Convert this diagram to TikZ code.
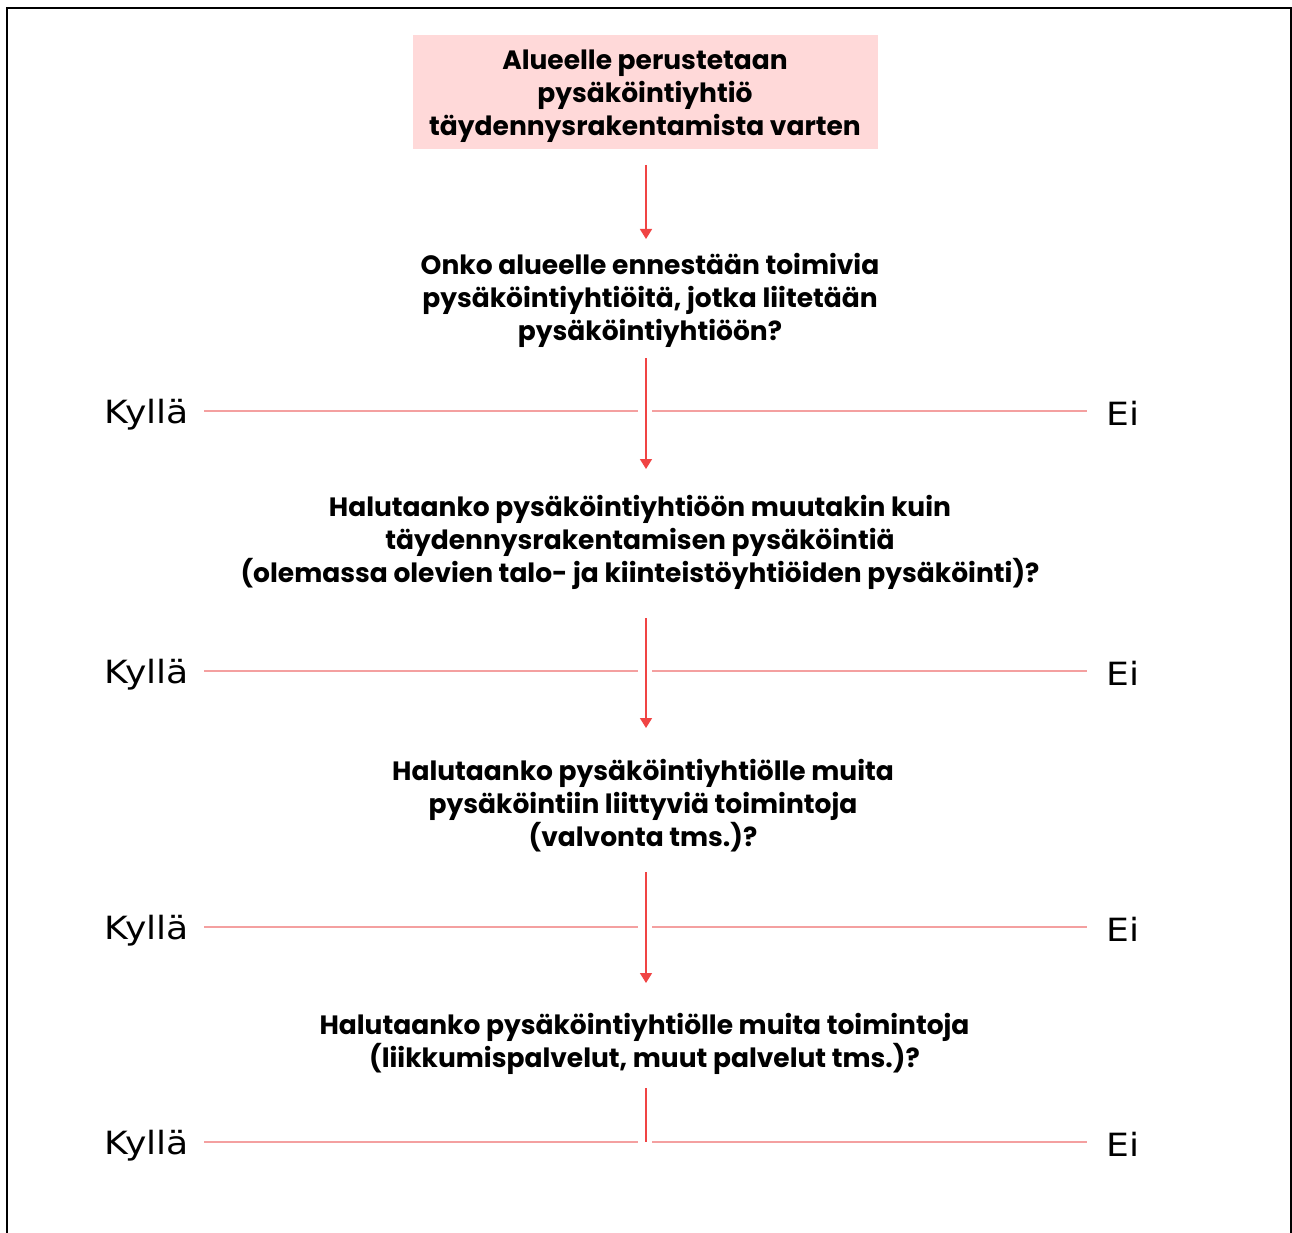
\documentclass[tikz,border=0pt]{standalone}
\usepackage{fontspec}
\usetikzlibrary{arrows.meta}
\newfontfamily\qfont{Poppins}
\newfontfamily\afont{DejaVu Sans}[FakeStretch=1.13]
\definecolor{boxpink}{RGB}{255,217,217}
\definecolor{arrred}{RGB}{240,68,68}
\definecolor{linepink}{RGB}{244,160,160}
\tikzset{
  qtext/.style={font=\qfont\bfseries\fontsize{26.5}{33}\selectfont, align=center, inner sep=0pt, text=black},
  ans/.style={font=\afont\fontsize{32}{38}\selectfont, inner sep=0pt, text=black},
  flow/.style={draw=arrred, line width=1.5pt, -{Triangle[width=12pt,length=10pt]}},
  stem/.style={draw=arrred, line width=1.5pt},
  branch/.style={draw=linepink, line width=1.5pt},
}
\begin{document}
\begin{tikzpicture}[x=1pt,y=-1pt]
\useasboundingbox (0,0) rectangle (1292,1233);
\fill[white] (0,0) rectangle (1292,1233);
\draw[black, line width=2.2pt] (7,1240) -- (7,8) -- (1291,8) -- (1291,1240);

\node[fill=boxpink, minimum width=465pt, minimum height=114pt, inner sep=0pt] (start) at (645.5,92) {};
\node[qtext] (starttext) at (645,96) {Alueelle perustetaan\\pysäköintiyhtiö\\täydennysrakentamista varten};

\node[qtext] (q1) at (650,300) {Onko alueelle ennestään toimivia\\pysäköintiyhtiöitä, jotka liitetään\\pysäköintiyhtiöön?};
\node[qtext] (q2) at (640,542) {Halutaanko pysäköintiyhtiöön muutakin kuin\\täydennysrakentamisen pysäköintiä\\(olemassa olevien talo- ja kiinteistöyhtiöiden pysäköinti)?};
\node[qtext] (q3) at (643,806) {Halutaanko pysäköintiyhtiölle muita\\pysäköintiin liittyviä toimintoja\\(valvonta tms.)?};
\node[qtext] (q4) at (644.5,1044) {Halutaanko pysäköintiyhtiölle muita toimintoja\\(liikkumispalvelut, muut palvelut tms.)?};

% arrow coordinates
\coordinate (a1s) at (646,165); \coordinate (a1e) at (646,239);
\coordinate (a2s) at (646,358); \coordinate (a2e) at (646,469);
\coordinate (a3s) at (646,618); \coordinate (a3e) at (646,728);
\coordinate (a4s) at (646,872); \coordinate (a4e) at (646,983);
\coordinate (a5s) at (646,1088); \coordinate (a5e) at (646,1142);

\draw[flow] (a1s) -- (a1e);
\draw[flow] (a2s) -- (a2e);
\draw[flow] (a3s) -- (a3e);
\draw[flow] (a4s) -- (a4e);
\draw[stem] (a5s) -- (a5e);

\foreach \i/\yy/\yb/\ye in {1/411/423/425, 2/671/683/685, 3/927/939/941, 4/1142/1154/1156}{
  \node[ans, anchor=base east] (yes\i) at (189,\yb) {Kyllä};
  \node[ans, anchor=base west] (no\i) at (1106,\ye) {Ei};
  \coordinate (ly\i) at (204,\yy); \coordinate (lm\i) at (638,\yy);
  \coordinate (rm\i) at (652,\yy); \coordinate (ry\i) at (1087,\yy);
  \draw[branch] (ly\i) -- (lm\i);
  \draw[branch] (rm\i) -- (ry\i);
}
\end{tikzpicture}
\end{document}
